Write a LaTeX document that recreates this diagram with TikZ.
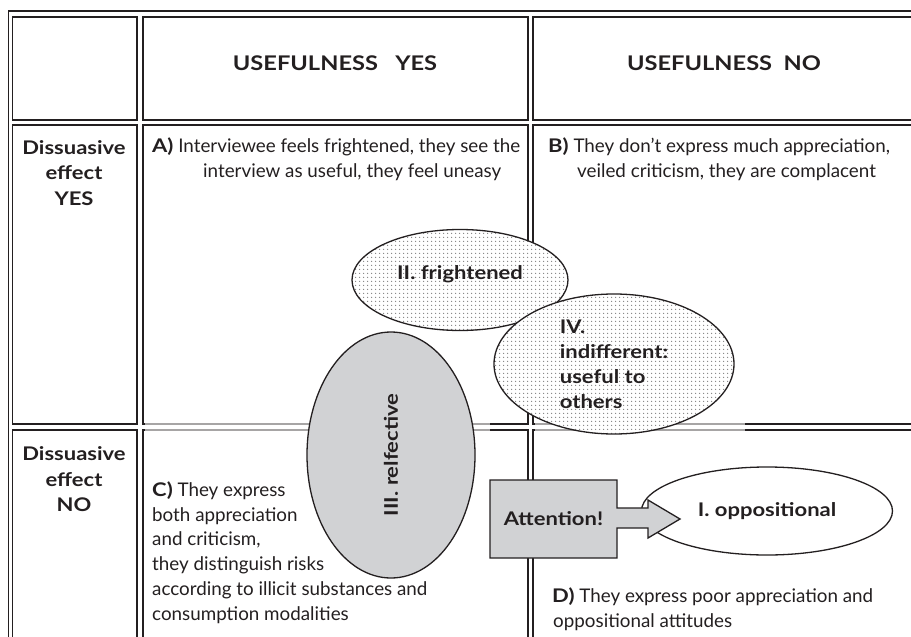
\documentclass[tikz,border=0pt]{standalone}
\usepackage{fontspec}
\setmainfont{Lato}[BoldFeatures={FakeStretch=1.17}]
\usepackage{tikz}
\usetikzlibrary{shapes, arrows, positioning, patterns.meta}
\definecolor{tinta}{RGB}{35,31,32}
\definecolor{gris}{RGB}{209,210,212}
\tikzstyle{cell} = [draw=tinta, line width=1.4pt]
\tikzstyle{headtitle} = [text=tinta, inner sep=0pt, anchor=base, font=\fontsize{20.2}{25}\selectfont\bfseries]
\tikzstyle{rowtitle} = [text=tinta, inner sep=0pt, anchor=base, align=center, font=\fontsize{18.8}{25.4}\selectfont\bfseries]
\tikzstyle{quadtext} = [text=tinta, inner sep=0pt, anchor=base west, align=left, font=\fontsize{18.8}{24.7}\selectfont]
\tikzstyle{bubble} = [ellipse, draw=tinta, line width=1.3pt, inner sep=0pt, text=tinta, font=\fontsize{18.8}{25}\selectfont\bfseries]
\tikzstyle{dotbubble} = [bubble, preaction={fill=white}, pattern={Dots[distance=4pt, radius=0.85pt]}, pattern color=black!50]
\tikzstyle{greybubble} = [bubble, fill=gris]
\tikzstyle{callout} = [draw=tinta, line width=1.3pt, fill=gris, line join=miter]
\tikzstyle{fade} = [fill=white, opacity=0.6]

\begin{document}
\begin{tikzpicture}[x=1pt, y=-1pt]
	\useasboundingbox (0,0) rectangle (911,637);
	\clip (0,0) rectangle (911,637);
	% table
	\draw[cell] (8.3,660) -- (8.3,11) -- (920,11);
	\foreach \xa/\xb in {12.7/137, 143/528, 533/915}
		\foreach \ya/\yb in {17/120, 125/424, 430/660}
			\draw[cell] (\xa,\ya) rectangle (\xb,\yb);
	\fill[fade] (145,421) rectangle (490,433);
	\fill[fade] (535,421) rectangle (745,433);
	\node[headtitle] (useyes) at (335,70.7) {USEFULNESS\ \ \ YES};
	\node[headtitle] (useno) at (724,70.7) {USEFULNESS\ \ NO};
	\node[rowtitle] (dissyes) at (74,205) {Dissuasive\\effect\\YES};
	\node[rowtitle] (dissno) at (74,511.7) {Dissuasive\\effect\\NO};
	\node[quadtext] (quadA) at (152,177) {\textbf{A)} Interviewee feels frightened, they see the\\\hspace*{51pt}interview as useful, they feel uneasy};
	\node[quadtext] (quadB) at (548,177) {\textbf{B)} They don't express much appreciation,\\\hspace*{29pt}veiled criticism, they are complacent};
	\node[quadtext] (quadC) at (152,620) {\textbf{C)} They express\\both appreciation\\and criticism,\\they distinguish risks\\according to illicit substances and\\consumption modalities};
	\node[quadtext] (quadD) at (552,627) {\textbf{D)} They express poor appreciation and\\\hspace*{1pt}oppositional attitudes};
	% bubbles
	\node[dotbubble, text depth=14pt, minimum width=216pt, minimum height=101pt] (frightened) at (460,280) {II. frightened};
	\node[dotbubble, align=left, minimum width=240pt, minimum height=140pt] (indifferent) at (614,364) {IV.\\indifferent:\\useful to\\others};
	\node[greybubble, rotate=90, minimum width=246pt, minimum height=168pt] (reflective) at (391,455) {III. relfective};
	\node[bubble, fill=white, minimum width=251pt, minimum height=88pt] (oppositional) at (767,511) {I. oppositional};
	\filldraw[callout] (490,480) -- (617,480) -- (617,508) -- (648,508) -- (648,500) -- (680,519) -- (648,538) -- (648,528) -- (617,528) -- (617,558) -- (490,558) -- cycle;
	\node[text=tinta, inner sep=0pt, font=\fontsize{18.8}{25}\selectfont\bfseries] (attention) at (553.5,519) {Attention!};
\end{tikzpicture}
\end{document}
